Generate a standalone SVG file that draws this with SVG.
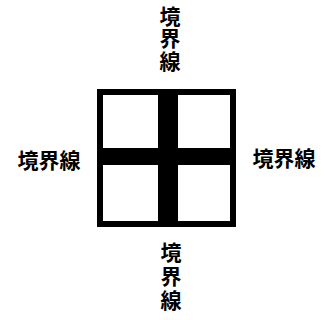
<svg xmlns="http://www.w3.org/2000/svg" width="325" height="320" viewBox="0 0 325 320">
  <style>
    .lbl { font-family: "Noto Sans CJK JP", "Noto Sans CJK SC", sans-serif; font-size: 21px; font-weight: bold; fill: #000; text-anchor: middle; }
    .bar { fill: #000; }
  </style>
  <rect width="325" height="320" fill="#fff"/>
  <g id="box">
    <rect x="100" y="92" width="133" height="132" fill="#fff" stroke="#000" stroke-width="6"/>
    <rect class="bar" x="158" y="92" width="20" height="132"/>
    <rect class="bar" x="100" y="148" width="133" height="17"/>
  </g>
  <g id="label-top">
    <text class="lbl" x="170" y="24">境</text>
    <text class="lbl" x="170" y="46">界</text>
    <text class="lbl" x="170" y="69">線</text>
  </g>
  <g id="label-bottom">
    <text class="lbl" x="171" y="260">境</text>
    <text class="lbl" x="171" y="284">界</text>
    <text class="lbl" x="171" y="308">線</text>
  </g>
  <g id="label-left">
    <text class="lbl" x="49" y="168">境界線</text>
  </g>
  <g id="label-right">
    <text class="lbl" x="284" y="166">境界線</text>
  </g>
</svg>
